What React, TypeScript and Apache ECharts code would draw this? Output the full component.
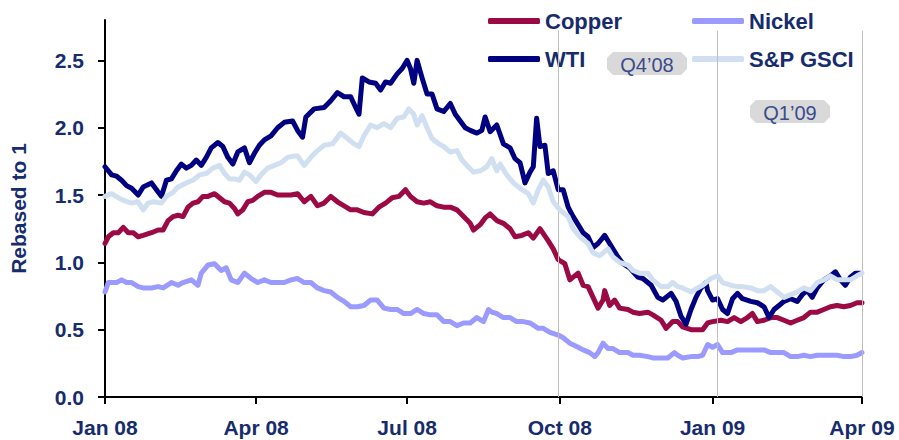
import React, { useEffect, useRef } from "react";
import * as echarts from "echarts";

// x values are days since 1 Jan 2008
const tickDays = [0, 91, 182, 274, 366, 456];
const tickLabels = ["Jan 08", "Apr 08", "Jul 08", "Oct 08", "Jan 09", "Apr 09"];
const yTicks = [0, 0.5, 1, 1.5, 2, 2.5];
const quarterLineDays = [273, 369, 456];
const quarterLabels = ["Q4\u201908", "Q1\u201909"];
const seriesNames = ["Copper", "Nickel", "WTI", "S&P GSCI"];

const copper = [
  [0, 1.14], [2, 1.19], [5, 1.22], [8, 1.22], [11, 1.26], [14, 1.22], [17, 1.22], [20, 1.19], [23, 1.2], [28, 1.22],
  [32, 1.24], [35, 1.24], [38, 1.31], [41, 1.34], [44, 1.35], [47, 1.34], [50, 1.41], [53, 1.44], [56, 1.45], [59, 1.49],
  [62, 1.49], [66, 1.51], [69, 1.48], [72, 1.45], [75, 1.44], [78, 1.4], [80, 1.36], [83, 1.39], [86, 1.45], [89, 1.46],
  [92, 1.49], [96, 1.52], [100, 1.52], [104, 1.5], [108, 1.5], [112, 1.5], [116, 1.51], [120, 1.45], [124, 1.49], [128, 1.42],
  [132, 1.44], [136, 1.49], [140, 1.45], [144, 1.42], [148, 1.39], [152, 1.39], [156, 1.37], [161, 1.36], [165, 1.41], [169, 1.44],
  [173, 1.48], [177, 1.49], [181, 1.54], [184, 1.49], [188, 1.45], [192, 1.44], [196, 1.45], [200, 1.42], [204, 1.41], [208, 1.41],
  [212, 1.39], [216, 1.34], [220, 1.29], [222, 1.24], [226, 1.28], [229, 1.33], [232, 1.36], [236, 1.31], [240, 1.29], [244, 1.25],
  [247, 1.19], [251, 1.2], [255, 1.22], [258, 1.18], [262, 1.25], [267, 1.16], [270, 1.1], [273, 1.02], [277, 0.99], [280, 0.87],
  [285, 0.92], [288, 0.83], [291, 0.82], [294, 0.74], [297, 0.66], [300, 0.72], [301, 0.79], [304, 0.68], [307, 0.72], [310, 0.66],
  [315, 0.65], [318, 0.63], [322, 0.62], [327, 0.63], [330, 0.61], [335, 0.57], [338, 0.51], [342, 0.56], [345, 0.56], [348, 0.52],
  [353, 0.5], [357, 0.5], [360, 0.5], [363, 0.55], [366, 0.56], [371, 0.57], [375, 0.56], [379, 0.59], [383, 0.56], [387, 0.59],
  [390, 0.62], [393, 0.56], [397, 0.57], [401, 0.59], [405, 0.59], [409, 0.57], [413, 0.55], [417, 0.57], [421, 0.59], [425, 0.63],
  [429, 0.63], [433, 0.65], [437, 0.67], [441, 0.68], [445, 0.67], [449, 0.68], [453, 0.7], [456, 0.7],
];

const nickel = [
  [0, 0.78], [2, 0.85], [7, 0.85], [10, 0.87], [13, 0.85], [16, 0.85], [20, 0.82], [23, 0.81], [28, 0.81], [32, 0.82],
  [35, 0.81], [40, 0.85], [44, 0.83], [47, 0.85], [52, 0.87], [56, 0.83], [58, 0.92], [62, 0.98], [66, 0.99], [70, 0.94],
  [73, 0.96], [76, 0.87], [80, 0.85], [84, 0.92], [88, 0.88], [92, 0.85], [96, 0.87], [100, 0.85], [104, 0.85], [108, 0.85],
  [112, 0.87], [116, 0.88], [120, 0.85], [124, 0.85], [128, 0.81], [132, 0.79], [136, 0.78], [140, 0.74], [144, 0.71], [148, 0.67],
  [152, 0.67], [156, 0.68], [160, 0.72], [164, 0.72], [168, 0.66], [172, 0.65], [176, 0.65], [180, 0.62], [184, 0.62], [188, 0.65],
  [192, 0.62], [196, 0.61], [200, 0.61], [204, 0.56], [208, 0.56], [212, 0.53], [216, 0.55], [220, 0.55], [224, 0.59], [228, 0.56],
  [231, 0.65], [233, 0.63], [236, 0.62], [240, 0.59], [244, 0.59], [248, 0.56], [252, 0.56], [256, 0.55], [261, 0.51], [264, 0.51],
  [268, 0.48], [273, 0.46], [276, 0.44], [280, 0.4], [285, 0.37], [288, 0.35], [292, 0.33], [295, 0.3], [297, 0.33], [300, 0.4],
  [303, 0.36], [306, 0.36], [310, 0.33], [315, 0.33], [318, 0.31], [322, 0.31], [327, 0.3], [330, 0.29], [335, 0.29], [339, 0.29],
  [343, 0.33], [345, 0.31], [348, 0.29], [353, 0.3], [357, 0.3], [360, 0.31], [363, 0.39], [366, 0.37], [369, 0.39], [372, 0.33],
  [377, 0.33], [381, 0.35], [384, 0.35], [389, 0.35], [393, 0.35], [397, 0.35], [401, 0.33], [405, 0.33], [409, 0.33], [413, 0.3],
  [417, 0.3], [421, 0.31], [425, 0.3], [429, 0.31], [433, 0.31], [437, 0.31], [441, 0.31], [445, 0.3], [449, 0.3], [453, 0.31],
  [456, 0.33],
];

const wti = [
  [0, 1.71], [4, 1.65], [7, 1.64], [10, 1.61], [13, 1.57], [16, 1.55], [20, 1.5], [23, 1.56], [28, 1.59], [31, 1.54],
  [34, 1.49], [37, 1.61], [40, 1.62], [43, 1.68], [46, 1.73], [49, 1.7], [52, 1.72], [55, 1.76], [58, 1.72], [61, 1.78],
  [64, 1.85], [68, 1.89], [71, 1.86], [74, 1.78], [77, 1.73], [80, 1.82], [84, 1.85], [87, 1.74], [90, 1.81], [93, 1.87],
  [96, 1.91], [100, 1.94], [104, 2.0], [108, 2.04], [113, 2.05], [116, 1.98], [119, 1.93], [121, 2.08], [126, 2.14], [132, 2.15],
  [136, 2.2], [140, 2.26], [144, 2.23], [148, 2.23], [151, 2.15], [153, 2.1], [155, 2.37], [159, 2.34], [163, 2.33], [166, 2.28],
  [169, 2.34], [172, 2.33], [176, 2.4], [179, 2.44], [182, 2.5], [184, 2.44], [186, 2.33], [188, 2.5], [191, 2.37], [194, 2.25],
  [197, 2.25], [200, 2.14], [204, 2.12], [208, 2.18], [211, 2.1], [214, 2.05], [217, 2.0], [220, 1.98], [224, 1.96], [227, 1.98],
  [229, 2.08], [232, 1.97], [236, 2.02], [240, 1.88], [244, 1.85], [247, 1.77], [250, 1.74], [253, 1.59], [256, 1.67], [258, 1.71],
  [260, 2.07], [262, 1.86], [265, 1.87], [267, 1.66], [270, 1.68], [273, 1.54], [276, 1.54], [279, 1.41], [282, 1.34], [285, 1.28],
  [288, 1.22], [291, 1.19], [294, 1.11], [297, 1.14], [301, 1.2], [304, 1.14], [309, 1.04], [312, 0.99], [316, 0.96], [321, 0.89],
  [324, 0.88], [329, 0.83], [333, 0.74], [336, 0.72], [341, 0.77], [344, 0.71], [347, 0.6], [350, 0.54], [353, 0.65], [356, 0.74],
  [359, 0.81], [362, 0.85], [363, 0.79], [366, 0.72], [369, 0.73], [372, 0.65], [375, 0.62], [378, 0.73], [381, 0.77], [384, 0.73],
  [389, 0.71], [393, 0.7], [397, 0.67], [400, 0.59], [403, 0.65], [406, 0.68], [409, 0.71], [413, 0.73], [417, 0.71], [420, 0.76],
  [423, 0.79], [426, 0.74], [429, 0.81], [433, 0.87], [437, 0.9], [440, 0.93], [443, 0.87], [446, 0.83], [449, 0.89], [452, 0.92],
  [455, 0.92],
];

const gsci = [
  [0, 1.49], [4, 1.51], [8, 1.48], [11, 1.46], [16, 1.44], [20, 1.45], [23, 1.39], [26, 1.44], [29, 1.45], [34, 1.44],
  [37, 1.49], [41, 1.52], [44, 1.56], [49, 1.59], [53, 1.61], [57, 1.65], [61, 1.66], [65, 1.7], [69, 1.72], [72, 1.66],
  [75, 1.62], [78, 1.62], [81, 1.61], [84, 1.67], [87, 1.65], [91, 1.6], [94, 1.65], [98, 1.7], [102, 1.72], [106, 1.74],
  [110, 1.78], [114, 1.79], [116, 1.79], [120, 1.72], [124, 1.78], [128, 1.83], [132, 1.87], [137, 1.88], [142, 1.96], [146, 1.92],
  [150, 1.88], [153, 1.86], [156, 1.94], [160, 2.02], [164, 2.0], [168, 2.03], [172, 2.0], [176, 2.07], [180, 2.08], [183, 2.14],
  [186, 2.1], [188, 2.02], [191, 2.09], [194, 2.0], [197, 1.92], [200, 1.89], [204, 1.86], [208, 1.82], [212, 1.83], [215, 1.76],
  [218, 1.72], [222, 1.67], [226, 1.68], [230, 1.71], [233, 1.77], [236, 1.68], [238, 1.73], [242, 1.65], [246, 1.59], [250, 1.55],
  [255, 1.51], [258, 1.44], [261, 1.54], [264, 1.61], [267, 1.56], [270, 1.45], [274, 1.39], [279, 1.34], [282, 1.25], [286, 1.19],
  [291, 1.14], [294, 1.07], [298, 1.05], [303, 1.1], [306, 1.04], [310, 1.0], [315, 0.98], [318, 0.94], [322, 0.92], [327, 0.92],
  [330, 0.87], [335, 0.82], [339, 0.82], [342, 0.85], [345, 0.82], [348, 0.81], [353, 0.78], [357, 0.81], [360, 0.83], [365, 0.88],
  [369, 0.9], [372, 0.85], [377, 0.83], [381, 0.82], [384, 0.82], [389, 0.81], [393, 0.79], [397, 0.79], [401, 0.82], [405, 0.78],
  [409, 0.74], [413, 0.76], [417, 0.78], [421, 0.81], [425, 0.79], [429, 0.85], [433, 0.87], [437, 0.9], [441, 0.87], [445, 0.87],
  [449, 0.87], [453, 0.9], [456, 0.92],
];

const FONT = "'Liberation Sans', Arial, sans-serif";
const NAVY_TEXT = "#162c6c";
const COLORS = { Copper: "#9b0a45", Nickel: "#9b9bff", WTI: "#000080", "S&P GSCI": "#d0e0f1" };

export default function App() {
  const ref = useRef<HTMLDivElement>(null);
  useEffect(() => {
    if (!ref.current) return;
    const chart = echarts.init(ref.current, null, { renderer: "svg" });
    const mk = (name: string, data: number[][], z: number, withMarks = false) => ({
      name,
      type: "line",
      data,
      symbol: "none",
      z,
      lineStyle: { width: 5, color: (COLORS as any)[name], cap: "round", join: "round" },
      itemStyle: { color: (COLORS as any)[name] },
      markLine: withMarks
        ? {
            silent: true,
            symbol: "none",
            label: { show: false },
            lineStyle: { color: "#bdbdbd", width: 1, type: "solid" },
            data: quarterLineDays.map((d) => [{ coord: [d, 2.72] }, { coord: [d, 0] }]),
          }
        : undefined,
    });
    const legendText = { fontFamily: FONT, fontWeight: "bold", fontSize: 22, color: NAVY_TEXT };
    const qBox = (cx: number, cy: number, text: string) => {
      const w = 40, h = 11.5, c = 6;
      return {
        type: "group",
        children: [
          {
            type: "polygon",
            shape: {
              points: [
                [cx - w + c, cy - h], [cx + w - c, cy - h], [cx + w, cy - h + c], [cx + w, cy + h - c],
                [cx + w - c, cy + h], [cx - w + c, cy + h], [cx - w, cy + h - c], [cx - w, cy - h + c],
              ],
            },
            style: { fill: "#d9d9d9" },
          },
          {
            type: "text",
            x: cx,
            y: cy + 1,
            style: {
              text,
              fontFamily: FONT,
              fontSize: 20,
              fill: "#3a4b8c",
              textAlign: "center",
              textVerticalAlign: "middle",
            },
          },
        ],
      };
    };
    chart.setOption({
      animation: false,
      grid: { left: 104, right: 37, top: 20, bottom: 43, containLabel: false },
      legend: [
        {
          data: [seriesNames[0], seriesNames[2]],
          orient: "vertical",
          left: 483,
          top: 5,
          itemWidth: 52,
          itemHeight: 6,
          itemGap: 16,
          icon: "roundRect",
          textStyle: legendText,
        },
        {
          data: [seriesNames[1], seriesNames[3]],
          orient: "vertical",
          left: 687,
          top: 5,
          itemWidth: 52,
          itemHeight: 6,
          itemGap: 16,
          icon: "roundRect",
          textStyle: legendText,
        },
      ],
      xAxis: {
        type: "value",
        min: 0,
        max: 456,
        splitLine: { show: false },
        axisLine: { lineStyle: { color: "#000", width: 2 } },
        axisTick: { show: true, customValues: tickDays, length: 7, lineStyle: { color: "#000", width: 2 } },
        axisLabel: {
          customValues: tickDays,
          formatter: (v: number) => tickLabels[tickDays.indexOf(v)] ?? "",
          fontFamily: FONT,
          fontWeight: "bold",
          fontSize: 21,
          color: NAVY_TEXT,
          margin: 20,
        },
      },
      yAxis: {
        type: "value",
        min: 0,
        max: 2.8,
        name: "Rebased to 1",
        nameLocation: "middle",
        nameGap: 76,
        nameTextStyle: { fontFamily: FONT, fontWeight: "bold", fontSize: 21, color: NAVY_TEXT },
        splitLine: { show: false },
        axisLine: { show: true, lineStyle: { color: "#000", width: 2 } },
        axisTick: { show: true, customValues: yTicks, length: 7, lineStyle: { color: "#000", width: 2 } },
        axisLabel: {
          customValues: yTicks,
          formatter: (v: number) => v.toFixed(1),
          fontFamily: FONT,
          fontWeight: "bold",
          fontSize: 21,
          color: NAVY_TEXT,
          margin: 21,
        },
      },
      series: [
        mk(seriesNames[1], nickel, 2, true),
        mk(seriesNames[0], copper, 3),
        mk(seriesNames[2], wti, 4),
        mk(seriesNames[3], gsci, 5),
      ],
      graphic: [qBox(647, 63.5, quarterLabels[0]), qBox(790, 111.5, quarterLabels[1])],
    });
    return () => chart.dispose();
  }, []);
  return (
    <div
      ref={ref}
      style={{ position: "fixed", left: 0, top: 0, width: 899, height: 440, background: "#fff" }}
    />
  );
}
